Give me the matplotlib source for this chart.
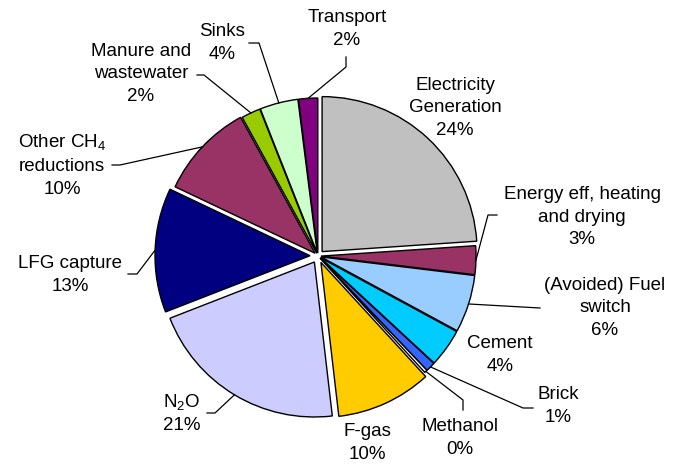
import math
import matplotlib
matplotlib.use('Agg')
import matplotlib.pyplot as plt

plt.rcParams['font.family'] = ['Liberation Sans', 'DejaVu Sans']
plt.rcParams['mathtext.fontset'] = 'custom'
plt.rcParams['mathtext.rm'] = 'Liberation Sans'
plt.rcParams['mathtext.it'] = 'Liberation Sans:italic'

# sectors clockwise from 12 o'clock
sectors = ['Electricity\nGeneration', 'Energy eff, heating\nand drying',
           '(Avoided) Fuel\nswitch', 'Cement', 'Brick', 'Methanol', 'F-gas',
           'N$_2$O', 'LFG capture', 'Other CH$_4$\nreductions',
           'Manure and\nwastewater', 'Sinks', 'Transport']
shares = [24, 3, 6, 4, 1, 0.3, 10, 21, 13, 10, 2, 4, 2]
colors = ['#C0C0C0', '#993366', '#99CCFF', '#00CCFF', '#3366FF', '#FFFFFF',
          '#FFCC00', '#CCCCFF', '#000080', '#993366', '#99CC00', '#CCFFCC',
          '#800080']
explode = [6, 3, 3, 3, 3, 3, 7, 7, 8, 4, 3, 3, 3]

W, H = 683, 466
# layout in pixels (y from top): label centre, leader elbow, leader end
text_pos = [(455, 108), (582, 217), (605, 308), (500, 355), (558, 406),
            (460, 438), (367, 443), (182, 413), (70, 275), (62, 165),
            (141, 74), (222, 43), (347, 29)]
leaders = [None, ((488, 215), (497, 215)), ((540, 308), (540, 308)), None,
           ((523, 408), (533, 408)), ((463, 400), (463, 410)), None,
           ((215, 413), (207, 413)), ((137, 274), (128, 274)),
           ((120, 165), (112, 165)), ((204, 75), (197, 75)),
           ((259, 43), (249, 43)), ((346, 67), (346, 57))]

fig = plt.figure(figsize=(W / 100, H / 100), dpi=100)
ax = fig.add_axes([0, 0, 1, 1])
wedges, _ = ax.pie(shares, colors=colors, explode=explode, startangle=90,
                   counterclock=False, radius=155, center=(318, H - 256),
                   wedgeprops=dict(edgecolor='black', linewidth=1.0))
ax.set_xlim(0, W)
ax.set_ylim(0, H)
ax.set_aspect('equal')
ax.axis('off')

for w, name, v, pos, ld in zip(wedges, sectors, shares, text_pos, leaders):
    ax.text(pos[0], H - pos[1], f'{name}\n{round(v)}%', ha='center',
            va='center', fontsize=13.5, linespacing=1.45)
    if ld is None:
        continue
    mid = math.radians((w.theta1 + w.theta2) / 2)
    cx, cy = w.center
    ax0 = cx + w.r * math.cos(mid)
    ay0 = cy + w.r * math.sin(mid)
    (ex, ey), (tx, ty) = ld
    ax.plot([ax0, ex, tx], [ay0, H - ey, H - ty], color='black', lw=0.9)

fig.savefig('out.png', dpi=100)
